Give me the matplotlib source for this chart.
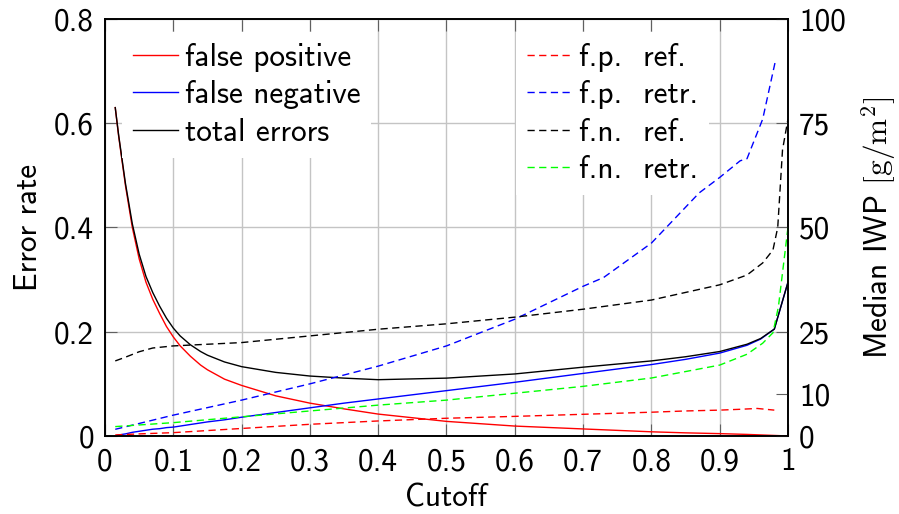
import numpy as np
import matplotlib
matplotlib.use("Agg")
import matplotlib.pyplot as plt

plt.rcParams["font.family"] = ["cmss10", "DejaVu Sans"]
plt.rcParams["mathtext.fontset"] = "cm"
plt.rcParams["axes.unicode_minus"] = False
plt.rcParams["font.size"] = 22.5

# error rates (left axis)
cutoff = [0.015, 0.02, 0.03, 0.04, 0.05, 0.06, 0.07, 0.08, 0.09, 0.1, 0.11,
          0.125, 0.14, 0.15, 0.175, 0.2, 0.25, 0.3, 0.35, 0.4, 0.5, 0.6, 0.7,
          0.8, 0.85, 0.9, 0.94, 0.96, 0.98, 1.0]
false_pos = [0.63, 0.575, 0.48, 0.40, 0.34, 0.295, 0.262, 0.235, 0.21, 0.19,
             0.173, 0.153, 0.136, 0.127, 0.109, 0.097, 0.077, 0.063, 0.052,
             0.042, 0.028, 0.019, 0.0135, 0.008, 0.006, 0.0045, 0.003, 0.002,
             0.001, 0.0]
false_neg = [0.0, 0.002, 0.004, 0.007, 0.009, 0.011, 0.013, 0.014, 0.016,
             0.017, 0.019, 0.022, 0.025, 0.027, 0.031, 0.036, 0.045, 0.054,
             0.063, 0.071, 0.087, 0.103, 0.12, 0.137, 0.147, 0.159, 0.174,
             0.186, 0.205, 0.295]
total_err = [0.63, 0.577, 0.484, 0.407, 0.349, 0.306, 0.275, 0.249, 0.226,
             0.207, 0.192, 0.175, 0.162, 0.155, 0.142, 0.133, 0.122, 0.115,
             0.111, 0.108, 0.111, 0.119, 0.132, 0.144, 0.152, 0.162, 0.176,
             0.187, 0.205, 0.295]

# median IWP (right axis, g/m^2)
fp_ref_x = [0.015, 0.05, 0.1, 0.2, 0.3, 0.4, 0.5, 0.6, 0.7, 0.8, 0.85, 0.9,
            0.93, 0.955, 0.98]
fp_ref = [0.25, 0.5, 0.8, 1.8, 2.8, 3.6, 4.25, 4.7, 5.2, 5.7, 6.0, 6.2, 6.4,
          6.6, 6.2]
fp_retr_x = [0.015, 0.05, 0.1, 0.2, 0.3, 0.4, 0.5, 0.6, 0.7, 0.73, 0.8, 0.87,
             0.9, 0.93, 0.94, 0.963, 0.981]
fp_retr = [1.6, 3.0, 5.0, 8.6, 12.5, 16.75, 21.6, 28.0, 35.9, 38.0, 46.25,
           58.3, 62.0, 66.0, 66.5, 76.0, 89.5]
fn_ref_x = [0.015, 0.03, 0.05, 0.07, 0.1, 0.2, 0.3, 0.4, 0.5, 0.6, 0.7, 0.8,
            0.9, 0.94, 0.963, 0.978, 0.985, 0.992, 1.0]
fn_ref = [18.0, 18.9, 20.2, 21.1, 21.6, 22.4, 24.0, 25.6, 26.9, 28.5, 30.4,
          32.6, 36.25, 38.6, 41.5, 44.6, 50.0, 68.6, 76.0]
fn_retr_x = [0.015, 0.1, 0.2, 0.3, 0.4, 0.5, 0.6, 0.7, 0.8, 0.9, 0.94, 0.963,
             0.978, 0.986, 1.0]
fn_retr = [2.25, 3.2, 4.6, 6.0, 7.4, 8.6, 10.25, 11.9, 13.9, 17.0, 19.6,
           22.25, 24.75, 31.0, 50.0]

x_ticks = [0, 0.1, 0.2, 0.3, 0.4, 0.5, 0.6, 0.7, 0.8, 0.9, 1]
x_labels = ["0", "0.1", "0.2", "0.3", "0.4", "0.5", "0.6", "0.7", "0.8", "0.9", "1"]
err_ticks = [0, 0.2, 0.4, 0.6, 0.8]
err_labels = ["0", "0.2", "0.4", "0.6", "0.8"]
iwp_ticks = [0, 10, 25, 50, 75, 100]

fig = plt.figure(figsize=(8.99, 5.14), dpi=100)
ax = fig.add_subplot(111)
fig.subplots_adjust(left=0.1168, right=0.8765, bottom=0.1518, top=0.963)
ax2 = ax.twinx()

lw = 1.0
l1, = ax.plot(cutoff, false_pos, color="#ff0000", lw=lw, label="false positive")
l2, = ax.plot(cutoff, false_neg, color="#0000ff", lw=lw, label="false negative")
l3, = ax.plot(cutoff, total_err, color="black", lw=lw, label="total errors")

dash = (0, (5.2, 3.2))
d1, = ax2.plot(fp_ref_x, fp_ref, color="#ff0000", lw=lw, ls=dash, label="f.p.  ref.")
d2, = ax2.plot(fp_retr_x, fp_retr, color="#0000ff", lw=lw, ls=dash, label="f.p.  retr.")
d3, = ax2.plot(fn_ref_x, fn_ref, color="black", lw=lw, ls=dash, label="f.n.  ref.")
d4, = ax2.plot(fn_retr_x, fn_retr, color="#00ff00", lw=lw, ls=dash, label="f.n.  retr.")

ax.set_xlim(0, 1)
ax.set_ylim(0, 0.8)
ax2.set_ylim(0, 100)

ax.set_xticks(x_ticks, x_labels)
ax.set_yticks(err_ticks, err_labels)
ax2.set_yticks(iwp_ticks, [str(t) for t in iwp_ticks])

ax.grid(True, color="#c4c4c4", lw=1.0)
ax.set_axisbelow(True)

ax.tick_params(axis="x", direction="in", length=8.5, width=0.8, color="#606060",
               top=True, pad=8)
ax.tick_params(axis="y", direction="in", length=8.5, width=0.8, color="#606060",
               pad=8)
ax2.tick_params(axis="y", direction="in", length=8.5, width=0.8, color="#606060",
                pad=8)

for a in (ax, ax2):
    for s in a.spines.values():
        s.set_linewidth(1.2)
        s.set_color("black")

ax.set_xlabel("Cutoff", labelpad=5)
ax.set_ylabel("Error rate", labelpad=8)
ax2.set_ylabel(r"Median IWP $[\mathrm{g}/\mathrm{m}^2]$", labelpad=10)

# legends sit on the left axes: they hide its grid, dashed curves stay on top
leg_kw = dict(frameon=True, fancybox=False, facecolor="white", edgecolor="none",
              framealpha=1.0, handlelength=1.44, handletextpad=0.2,
              labelspacing=0.27, borderpad=0.35, borderaxespad=0.0)
leg1 = ax.legend(handles=[l1, l2, l3], loc="upper left",
                 bbox_to_anchor=(0.0256, 0.969), **leg_kw)
ax.add_artist(leg1)
leg2 = ax.legend(handles=[d1, d2, d3, d4], loc="upper left",
                 bbox_to_anchor=(0.6025, 0.969), **leg_kw)

fig.savefig("out.png", dpi=100)
